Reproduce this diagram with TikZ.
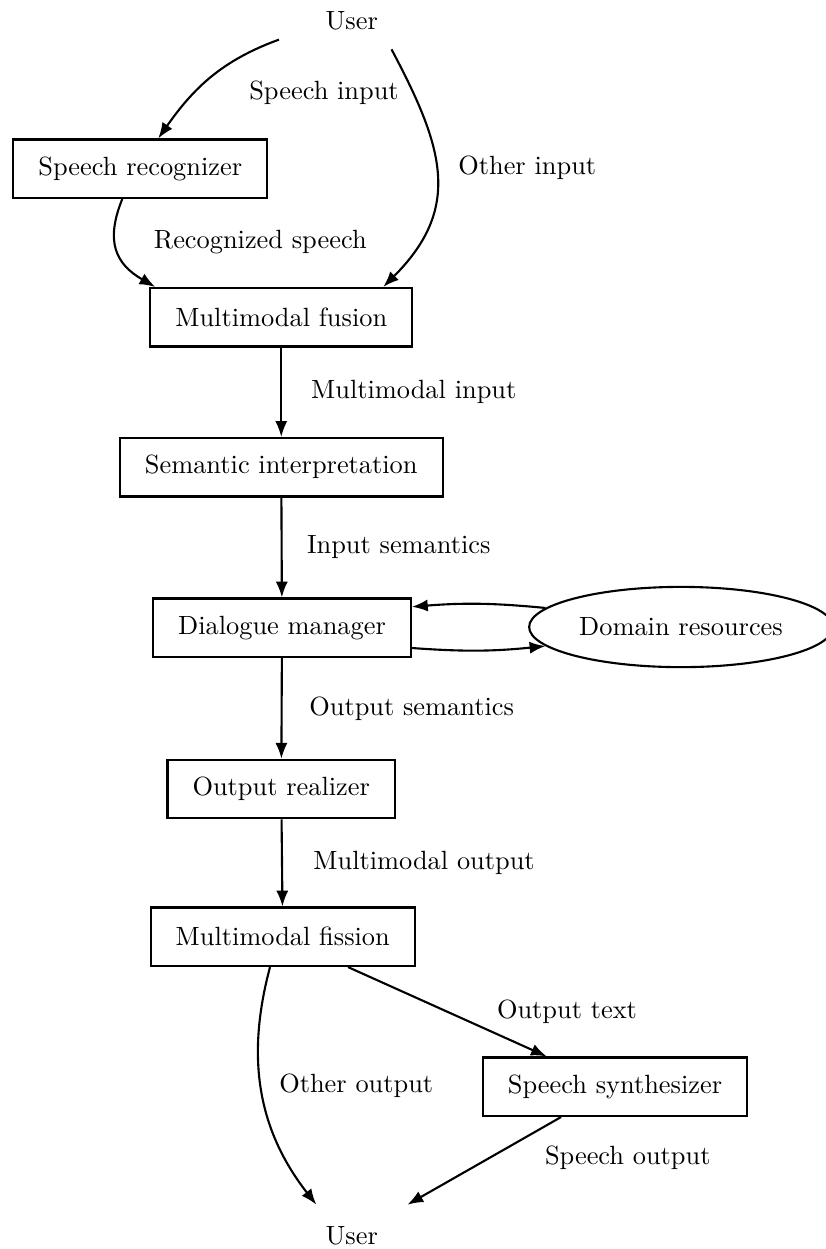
\documentclass[tikz,border=0pt]{standalone}
\usetikzlibrary{positioning,shapes.geometric,arrows.meta}
\begin{document}
\begin{tikzpicture}[
  box/.style = {draw, thick, minimum height=0.78cm, inner xsep=9.5pt},
  res/.style = {draw, thick, ellipse, inner sep=1pt,
    minimum width=4.05cm, minimum height=1.07cm},
  lbl/.style = {inner sep=3pt},
  arr/.style = {thick,-{Latex[length=6pt,width=4.6pt]}}
  ]
  \useasboundingbox (0,0) rectangle (11,-16.653);
  % nodes
  \node (user-in) at (4.69,-0.28) {User};
  \node (recog) [box] at (1.87,-2.25) {Speech recognizer};
  \node (fusion) [box] at (3.75,-4.23) {Multimodal fusion};
  \node (semantic) [box] at (3.75,-6.23) {Semantic interpretation};
  \node (dialog) [box] at (3.76,-8.37) {Dialogue manager};
  \node (domain) [res] at (9.08,-8.36) {Domain resources};
  \node (realizer) [box] at (3.75,-10.52) {Output realizer};
  \node (fission) [box] at (3.77,-12.49) {Multimodal fission};
  \node (synth) [box] at (8.2,-14.49) {Speech synthesizer};
  \node (user-out) at (4.69,-16.48) {User};

  % input side
  \draw[arr] ([xshift=-0.97cm]user-in.south) to[out=200, in=55] ([xshift=0.24cm]recog.north);
  \node (l-speechin) [lbl] at (4.32,-1.24) {Speech input};
  \draw[arr] ([xshift=0.53cm,yshift=-0.13cm]user-in.south) to[out=-62, in=45, looseness=1.2] ([xshift=-0.4cm]fusion.north east);
  \node (l-otherin) [lbl] at (7.03,-2.24) {Other input};
  \draw[arr] ([xshift=-0.24cm]recog.south) to[out=248, in=150, looseness=1.25] ([xshift=0.08cm]fusion.north west);
  \node (l-recog) [lbl] at (3.47,-3.23) {Recognized speech};

  % main chain
  \draw[arr] (fusion) -- node[lbl, right=0.28cm] (l-mmin) {Multimodal input} (semantic);
  \draw[arr] (semantic) -- node[lbl, right=0.22cm] (l-insem) {Input semantics} (dialog);
  \draw[arr] (domain.172) to[bend right=5] ([yshift=0.28cm]dialog.east);
  \draw[arr] ([yshift=-0.27cm]dialog.east) to[bend right=5] (domain.188);
  \draw[arr] (dialog) -- node[lbl, right=0.25cm] (l-outsem) {Output semantics} (realizer);
  \draw[arr] (realizer) -- node[lbl, right=0.3cm] (l-mmout) {Multimodal output} (fission);

  % output side
  \draw[arr] ([xshift=0.87cm]fission.south) -- ([xshift=-0.91cm]synth.north);
  \node (l-outtext) [lbl] at (7.56,-13.49) {Output text};
  \draw[arr] ([xshift=-0.17cm]fission.south) to[out=255, in=128] ([yshift=0.17cm]user-out.north west);
  \node (l-otherout) [lbl] at (4.75,-14.48) {Other output};
  \draw[arr] ([xshift=-0.72cm]synth.south) -- ([xshift=0.27cm,yshift=0.17cm]user-out.north east);
  \node (l-speechout) [lbl] at (8.37,-15.44) {Speech output};
\end{tikzpicture}
\end{document}
